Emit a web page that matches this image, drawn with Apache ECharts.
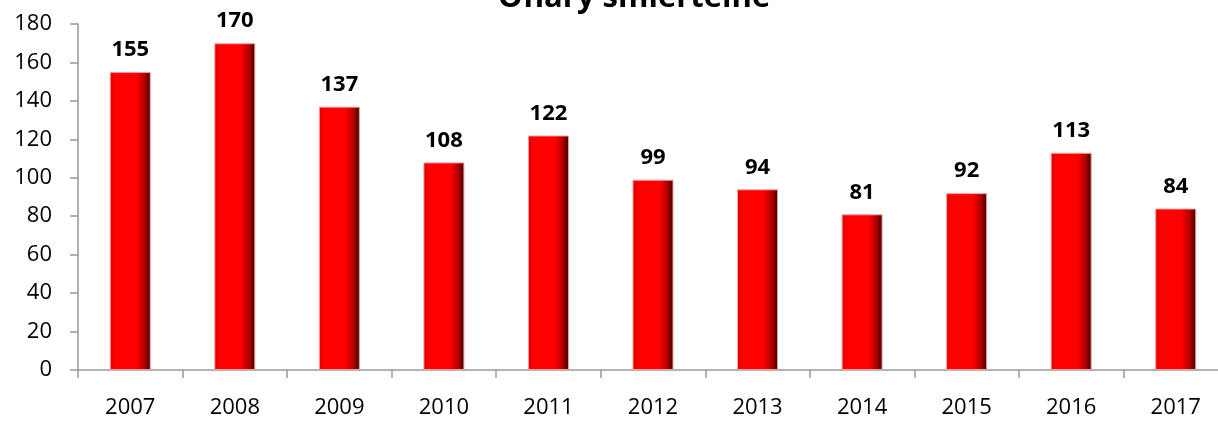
<!DOCTYPE html>
<html>
<head>
<meta charset="utf-8">
<script src="https://cdn.jsdelivr.net/npm/echarts@6/dist/echarts.min.js"></script>
<style>
  html, body { margin: 0; padding: 0; background: #fff; overflow: hidden; }
  #main { width: 1218px; height: 421px; }
</style>
</head>
<body>
<div id="main"></div>
<script>
var years = ['2007', '2008', '2009', '2010', '2011', '2012', '2013', '2014', '2015', '2016', '2017']
var victims = [155, 170, 137, 108, 122, 99, 94, 81, 92, 113, 84]
var yTicks = [0, 20, 40, 60, 80, 100, 120, 140, 160, 180]

var myChart = echarts.init(document.getElementById('main'))

// czerwony słupek z ciemną prawą krawędzią
var barColor = new echarts.graphic.LinearGradient(0, 0, 1, 0, [
  { offset: 0, color: '#d40000' },
  { offset: 0.12, color: '#ff0000' },
  { offset: 0.65, color: '#ff0000' },
  { offset: 0.85, color: '#b00000' },
  { offset: 1, color: '#3a0000' }
])

myChart.setOption({
  animation: false,
  title: {
    text: 'Ofiary śmiertelne',
    left: 493,
    top: -22,
    textStyle: { fontFamily: 'Open Sans', fontWeight: 'bold', fontSize: 31, color: '#000' }
  },
  // wykres w oryginale wychodzi poza prawą krawędź
  grid: { left: 78, top: 24, width: 1150, height: 346, containLabel: false, outerBoundsMode: 'none' },
  xAxis: {
    type: 'category',
    data: years,
    axisLine: { lineStyle: { color: '#999', width: 1.5 } },
    axisTick: { show: true, length: 8, lineStyle: { color: '#999', width: 1.5 } },
    axisLabel: { fontFamily: 'Open Sans', fontSize: 22, color: '#000', margin: 27 }
  },
  yAxis: {
    type: 'value',
    min: yTicks[0],
    max: yTicks[yTicks.length - 1],
    interval: 20,
    splitLine: { show: false },
    axisLine: { show: true, lineStyle: { color: '#999', width: 1.5 } },
    axisTick: { show: true, length: 8, lineStyle: { color: '#999', width: 1.5 } },
    axisLabel: { fontFamily: 'Open Sans', fontSize: 22, color: '#000', margin: 26 }
  },
  series: [{
    type: 'bar',
    data: victims,
    barWidth: 41,
    itemStyle: { color: barColor, borderColor: '#f4a0a0', borderWidth: 1 },
    label: {
      show: true,
      position: 'top',
      distance: 11,
      fontFamily: 'Open Sans',
      fontWeight: 'bold',
      fontSize: 22,
      color: '#000'
    }
  }]
})
</script>
</body>
</html>
